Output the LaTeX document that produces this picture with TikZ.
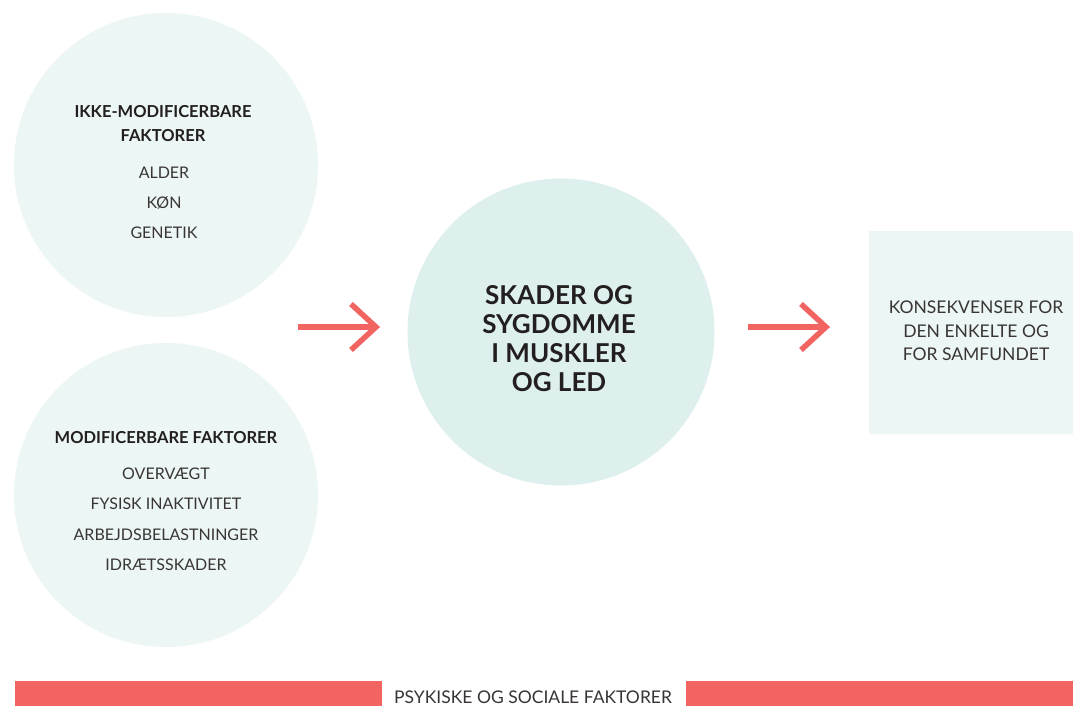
\documentclass[tikz,border=0pt]{standalone}
\usepackage{fontspec}
\setmainfont{Lato}
\definecolor{mint}{HTML}{ECF6F4}
\definecolor{mintc}{HTML}{DDF0ED}
\definecolor{coral}{HTML}{F16461}
\definecolor{ink}{HTML}{231F20}
\tikzset{
  bubble/.style={circle, inner sep=0pt, minimum size=#1},
  head/.style={font=\bfseries\fontsize{16.5}{24}\selectfont, text=ink, align=center, inner sep=0pt},
  item/.style={font=\fontsize{16}{30}\selectfont, text=ink!90, inner sep=0pt},
  arr/.style={draw=coral, line width=5.5pt, line join=miter},
  bar/.style={fill=coral, draw=none}
}
\begin{document}
\begin{tikzpicture}[x=1pt,y=-1pt]
\useasboundingbox[fill=white] (0,0) rectangle (1073,706);
% circles
\node[bubble=304pt, fill=mint] (c1) at (166,165) {};
\node[bubble=304pt, fill=mint] (c2) at (166,495) {};
\node[bubble=307pt, fill=mintc] (c3) at (561,332) {};
\node[fill=mint, minimum width=204pt, minimum height=203pt, inner sep=0pt, anchor=north west] (r) at (869,231) {};
% top-left text
\node[head] (t1) at (163,124) {IKKE-MODIFICERBARE\\FAKTORER};
\node[item] (t1a) at (164,173) {ALDER};
\node[item] (t1b) at (164,203) {KØN};
\node[item] (t1c) at (164,233) {GENETIK};
% bottom-left text
\node[head] (t2) at (166,438) {MODIFICERBARE FAKTORER};
\node[item] (t2a) at (166,474) {OVERVÆGT};
\node[item] (t2b) at (166,504) {FYSISK INAKTIVITET};
\node[item] (t2c) at (166,535) {ARBEJDSBELASTNINGER};
\node[item] (t2d) at (166,565) {IDRÆTSSKADER};
% centre text
\node[font=\bfseries\fontsize{26}{29}\selectfont, text=ink, align=center, inner sep=0pt] (t3) at (559,339) {SKADER OG\\SYGDOMME\\I MUSKLER\\OG LED};
% rect text
\node[font=\fontsize{17.5}{23.5}\selectfont, text=ink!90, align=center, inner sep=0pt] (t4) at (976,331) {KONSEKVENSER FOR\\DEN ENKELTE OG\\FOR SAMFUNDET};
% arrows
\coordinate (a1s) at (298,327);
\coordinate (a1e) at (376,327);
\coordinate (a1u) at (351,304);
\coordinate (a1d) at (351,350);
\draw[arr] (a1s) -- (a1e);
\draw[arr] (a1u) -- (a1e) -- (a1d);
\coordinate (a2s) at (748,327);
\coordinate (a2e) at (826,327);
\coordinate (a2u) at (801,304);
\coordinate (a2d) at (801,350);
\draw[arr] (a2s) -- (a2e);
\draw[arr] (a2u) -- (a2e) -- (a2d);
% bottom bar
\node[bar, minimum width=367pt, minimum height=25pt, inner sep=0pt, anchor=north west] (b1) at (15,681) {};
\node[bar, minimum width=387pt, minimum height=25pt, inner sep=0pt, anchor=north west] (b2) at (686,681) {};
\node[font=\fontsize{17.5}{18}\selectfont, text=ink!90, inner sep=0pt] (bt) at (533,697) {PSYKISKE OG SOCIALE FAKTORER};
\end{tikzpicture}
\end{document}
